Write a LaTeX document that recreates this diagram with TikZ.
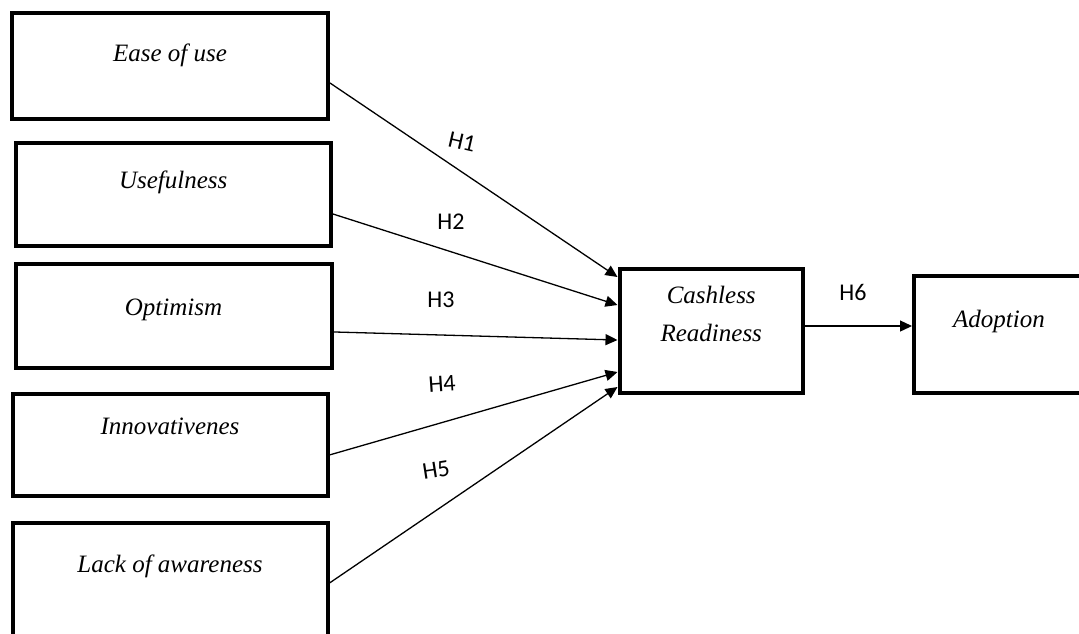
\documentclass[tikz,border=0pt]{standalone}
\usepackage{fontspec}
\setmainfont{Liberation Serif}
\newfontfamily\hypfont{Carlito}
\usetikzlibrary{arrows.meta, positioning}

\tikzset{
  factor/.style={draw, rectangle, line width=2pt, inner ysep=0pt, anchor=north west,
    font=\itshape\fontsize{12.5pt}{19pt}\selectfont},
  hyp/.style={font=\hypfont\fontsize{12pt}{14pt}\selectfont, inner sep=0pt},
  link/.style={-{Triangle[length=6pt,width=5.5pt]}, line width=0.65pt}
}

\begin{document}
\begin{tikzpicture}[x=0.5pt, y=-0.5pt]
    \useasboundingbox (0,0) rectangle (1079,633);
    \clip (0,0) rectangle (1079,633);

    % factors on the left
    \node[factor, minimum width=158pt, text height=24.25pt, text depth=28.75pt] (ease) at (10,10.5) {Ease of use};
    \node[factor, minimum width=157.75pt, text height=22.75pt, text depth=28.75pt] (useful) at (13.5,140.5) {Usefulness};
    \node[factor, minimum width=158pt, text height=25.5pt, text depth=26.25pt] (optim) at (13.5,262) {Optimism};
    \node[factor, minimum width=157.5pt, text height=20pt, text depth=30.75pt] (innov) at (10.5,392) {Innovativenes};
    \node[factor, minimum width=157.5pt, text height=25pt, text depth=40pt] (lack) at (10.5,520.5) {Lack of awareness};

    % readiness and adoption
    \node[factor, minimum width=91.75pt, text width=80pt, align=center, text height=17.25pt, text depth=44.75pt] (ready) at (617.5,266.5) {Cashless\\Readiness};
    \node[factor, minimum width=85pt, text height=25.75pt, text depth=32.75pt] (adopt) at (912,273.5) {Adoption};

    \path[link]
    ([yshift=-8.75pt]ease.east) edge ([yshift=26.75pt]ready.west)
    ([yshift=-10pt]useful.east) edge ([yshift=12.75pt]ready.west)
    ([yshift=-8.1pt]optim.east) edge ([yshift=-4.75pt]ready.west)
    ([yshift=-5.1pt]innov.east) edge ([yshift=-20.75pt]ready.west)
    ([yshift=2.25pt]lack.east) edge ([yshift=-28.25pt]ready.west)
    ([yshift=2.25pt]ready.east) edge ([yshift=4pt]adopt.west);

    % hypothesis labels
    \node[hyp, rotate=-13] (hone) at (462,142) {H1};
    \node[hyp] (htwo) at (451,222) {H2};
    \node[hyp] (hthree) at (441,300) {H3};
    \node[hyp, rotate=4] (hfour) at (442,384) {H4};
    \node[hyp, rotate=9] (hfive) at (436,470) {H5};
    \node[hyp] (hsix) at (853,292) {H6};

\end{tikzpicture}
\end{document}
